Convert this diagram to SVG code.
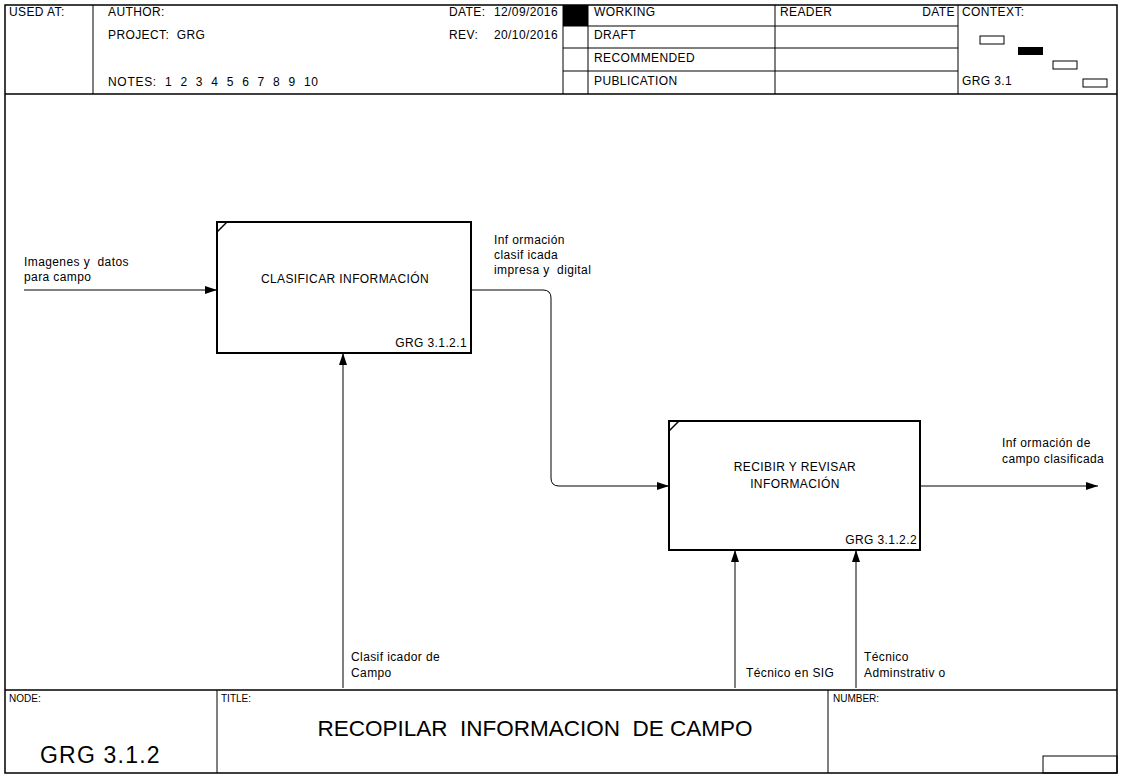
<svg xmlns="http://www.w3.org/2000/svg" width="1122" height="776" viewBox="0 0 1122 776">
<style>
text{font-family:"Liberation Sans",Arial,sans-serif;fill:#000;white-space:pre}
.t{font-size:12px;letter-spacing:0.4px}
.s{font-size:10px}
.frame{fill:none;stroke:#000;stroke-width:1.5}
.thin{fill:none;stroke:#000;stroke-width:1}
.box{fill:#fff;stroke:#000;stroke-width:2}
.ln{fill:none;stroke:#000;stroke-width:1}
</style>
<defs>
<marker id="ah" viewBox="0 0 12 8" refX="12" refY="4" markerWidth="12" markerHeight="8" markerUnits="userSpaceOnUse" orient="auto">
<path d="M0,0 L12,4 L0,8 Z" fill="#000"/>
</marker>
</defs>
<rect width="1122" height="776" fill="#fff"/>
<g id="header">
<rect x="5" y="5" width="1112" height="768" class="frame"/>
<line x1="5" y1="94" x2="1117" y2="94" class="frame"/>
<line x1="93" y1="5" x2="93" y2="94" class="thin"/>
<line x1="563" y1="5" x2="563" y2="94" class="thin"/>
<line x1="588" y1="5" x2="588" y2="94" class="thin"/>
<line x1="775" y1="5" x2="775" y2="94" class="thin"/>
<line x1="958" y1="5" x2="958" y2="94" class="thin"/>
<line x1="563" y1="26" x2="958" y2="26" class="thin"/>
<line x1="563" y1="48" x2="958" y2="48" class="thin"/>
<line x1="563" y1="71" x2="958" y2="71" class="thin"/>
<rect x="563" y="5" width="25" height="21" fill="#000"/>
<text x="9" y="16" class="t">USED AT:</text>
<text x="108" y="16" class="t">AUTHOR:</text>
<text x="108" y="39" class="t" xml:space="preserve">PROJECT:  GRG</text>
<text x="108" y="86" class="t" style="letter-spacing:0.7px" xml:space="preserve">NOTES:  1  2  3  4  5  6  7  8  9  10</text>
<text x="449" y="16" class="t">DATE:</text>
<text x="558" y="16" class="t" text-anchor="end">12/09/2016</text>
<text x="449" y="39" class="t">REV:</text>
<text x="558" y="39" class="t" text-anchor="end">20/10/2016</text>
<text x="594" y="16" class="t">WORKING</text>
<text x="594" y="39" class="t">DRAFT</text>
<text x="594" y="62" class="t">RECOMMENDED</text>
<text x="594" y="85" class="t">PUBLICATION</text>
<text x="780" y="16" class="t">READER</text>
<text x="955" y="16" class="t" text-anchor="end">DATE</text>
<text x="962" y="16" class="t">CONTEXT:</text>
<text x="962" y="85" class="t">GRG 3.1</text>
<rect x="980" y="36" width="24" height="8" class="thin"/>
<rect x="1018" y="47" width="25" height="8" fill="#000"/>
<rect x="1053" y="61" width="24" height="8" class="thin"/>
<rect x="1083" y="79" width="24" height="8" class="thin"/>
</g>
<g id="footer">
<line x1="5" y1="690" x2="1117" y2="690" class="frame"/>
<line x1="217" y1="690" x2="217" y2="773" class="thin"/>
<line x1="828" y1="690" x2="828" y2="773" class="thin"/>
<rect x="1043" y="756" width="74" height="17" class="thin"/>
<text x="9" y="702" class="s">NODE:</text>
<text x="40" y="763" style="font-size:23px;letter-spacing:1.2px">GRG 3.1.2</text>
<text x="221" y="702" class="s">TITLE:</text>
<text x="535" y="736" text-anchor="middle" style="font-size:22.5px" xml:space="preserve">RECOPILAR  INFORMACION  DE CAMPO</text>
<text x="833" y="702" class="s">NUMBER:</text>
</g>
<g id="connectors">
<path d="M24,290 H217" class="ln" marker-end="url(#ah)"/>
<path d="M471,290 H543 Q551,290 551,298 V478 Q551,486 559,486 H669" class="ln" marker-end="url(#ah)"/>
<path d="M343,688 V353" class="ln" marker-end="url(#ah)"/>
<path d="M920,486 H1098" class="ln" marker-end="url(#ah)"/>
<path d="M735,688 V550" class="ln" marker-end="url(#ah)"/>
<path d="M856,688 V550" class="ln" marker-end="url(#ah)"/>
<text x="24" y="266" class="t" xml:space="preserve">Imagenes y  datos</text>
<text x="24" y="281" class="t">para campo</text>
<text x="494" y="244" class="t">Inf ormación</text>
<text x="494" y="259" class="t">clasif icada</text>
<text x="494" y="274" class="t" xml:space="preserve">impresa y  digital</text>
<text x="351" y="661" class="t">Clasif icador de</text>
<text x="351" y="677" class="t">Campo</text>
<text x="1002" y="447" class="t">Inf ormación de</text>
<text x="1002" y="463" class="t">campo clasificada</text>
<text x="746" y="677" class="t">Técnico en SIG</text>
<text x="864" y="661" class="t">Técnico</text>
<text x="864" y="677" class="t">Adminstrativ o</text>
</g>
<g id="box1">
<rect x="217" y="222" width="254" height="131" class="box"/>
<line x1="217" y1="232" x2="227" y2="222" stroke="#000" stroke-width="1.5"/>
<text x="345" y="283" class="t" text-anchor="middle">CLASIFICAR INFORMACIÓN</text>
<text x="467" y="347" class="t" text-anchor="end">GRG 3.1.2.1</text>
</g>
<g id="box2">
<rect x="669" y="421" width="251" height="129" class="box"/>
<line x1="669" y1="431" x2="679" y2="421" stroke="#000" stroke-width="1.5"/>
<text x="795" y="471" class="t" text-anchor="middle">RECIBIR Y REVISAR</text>
<text x="795" y="488" class="t" text-anchor="middle">INFORMACIÓN</text>
<text x="917" y="544" class="t" text-anchor="end">GRG 3.1.2.2</text>
</g>
</svg>
